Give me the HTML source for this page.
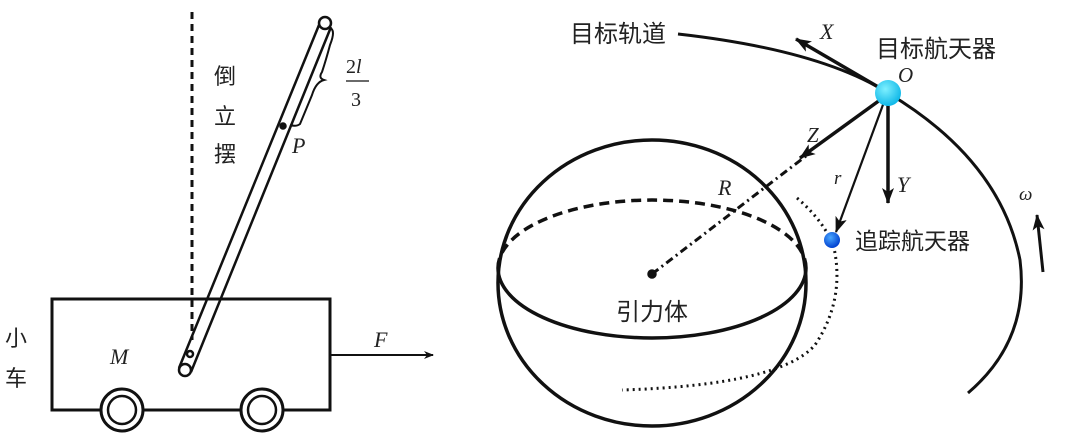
<!DOCTYPE html>
<html><head><meta charset="utf-8"><style>
html,body{margin:0;padding:0;background:#fff;}
svg{display:block;}
text{font-family:"Liberation Serif","Noto Serif CJK SC",serif;fill:#222;}
.cn{font-family:"Liberation Sans","Noto Sans CJK SC",sans-serif;}
</style></head><body>
<svg width="1080" height="439" viewBox="0 0 1080 439" xmlns="http://www.w3.org/2000/svg">
<defs>
<marker id="ah" markerWidth="10" markerHeight="8" refX="9" refY="4" orient="auto" markerUnits="userSpaceOnUse"><path d="M0,0 L10,4 L0,8 L3,4z" fill="#111"/></marker>
<marker id="ahb" markerWidth="16" markerHeight="12" refX="15" refY="6" orient="auto" markerUnits="userSpaceOnUse"><path d="M0,0 L16,6 L0,12 L4,6z" fill="#111"/></marker>
<radialGradient id="g1" cx="40%" cy="35%" r="65%"><stop offset="0" stop-color="#7ef0ff"/><stop offset="1" stop-color="#10b8e8"/></radialGradient>
<radialGradient id="g2" cx="40%" cy="35%" r="65%"><stop offset="0" stop-color="#4aa8ff"/><stop offset="1" stop-color="#0040d0"/></radialGradient>
</defs>
<g stroke="#111" fill="none" stroke-width="2.5">
<line x1="192" y1="12" x2="192" y2="340" stroke-dasharray="7,5" stroke-width="3"/>
<rect x="52" y="299" width="278" height="111" stroke-width="3"/>
<line x1="319" y1="25" x2="179" y2="368"/>
<line x1="331" y1="27" x2="191" y2="372"/>
<circle cx="325" cy="23" r="6" fill="#fff"/>
<circle cx="185" cy="370" r="6" fill="#fff"/>
<circle cx="190" cy="354" r="3"/>
<path d="M330,28 Q336,30 330,45 Q326,60 322,72 Q318,78 324,80 Q316,82 312,95 L300,124 Q296,127 290,125" stroke-width="2"/>
<circle cx="283" cy="126" r="2.5" fill="#111"/>
<line x1="346" y1="81" x2="369" y2="81" stroke-width="1.2"/>
<line x1="330" y1="355" x2="433" y2="355" stroke-width="2" marker-end="url(#ah)"/>
<circle cx="122" cy="410" r="21" fill="#fff" stroke-width="3"/>
<circle cx="122" cy="410" r="14" stroke-width="2.5"/>
<circle cx="262" cy="410" r="21" fill="#fff" stroke-width="3"/>
<circle cx="262" cy="410" r="14" stroke-width="2.5"/>
<ellipse cx="652" cy="283" rx="154" ry="143" stroke-width="3.5"/>
<path d="M498,268 A154,68 0 0 1 806,268" stroke-dasharray="10,6" stroke-width="3.5"/>
<path d="M498,268 A154,70 0 0 0 806,268" stroke-width="3.5"/>
<line x1="652" y1="274" x2="806" y2="156" stroke-dasharray="8,4,2,4" stroke-width="3"/>
<circle cx="652" cy="274" r="3.5" fill="#111"/>
<path d="M797,198 Q825,222 834,248 Q845,300 815,345 Q780,385 622,390" stroke-dasharray="2,4" stroke-width="3"/>
<path d="M678,34 Q820,50 888,93 Q1000,160 1020,260 Q1030,340 968,393" stroke-width="3"/>
<line x1="880" y1="88" x2="796" y2="39" stroke-width="3.5" marker-end="url(#ahb)"/>
<line x1="880" y1="100" x2="800" y2="158" stroke-width="3.5" marker-end="url(#ahb)"/>
<line x1="884" y1="102" x2="836" y2="232" stroke-width="2.2" marker-end="url(#ahb)"/>
<line x1="888" y1="102" x2="888" y2="203" stroke-width="3.5" marker-end="url(#ahb)"/>
<line x1="1043" y1="272" x2="1037" y2="215" stroke-width="3" marker-end="url(#ahb)"/>
</g>
<circle cx="888" cy="93" r="13" fill="url(#g1)"/>
<circle cx="832" cy="240" r="8" fill="url(#g2)"/>
<text class="cn" x="214" y="84" font-size="22">倒</text>
<text class="cn" x="214" y="124" font-size="22">立</text>
<text class="cn" x="214" y="162" font-size="22">摆</text>
<text x="292" y="153" font-size="22" font-style="italic">P</text>
<text x="346" y="73" font-size="20">2<tspan font-style="italic">l</tspan></text>
<text x="351" y="106" font-size="20">3</text>
<text class="cn" x="5" y="346" font-size="22">小</text>
<text class="cn" x="5" y="386" font-size="22">车</text>
<text x="110" y="364" font-size="22" font-style="italic">M</text>
<text x="374" y="347" font-size="22" font-style="italic">F</text>
<text class="cn" x="570" y="42" font-size="24">目标轨道</text>
<text x="820" y="39" font-size="22" font-style="italic">X</text>
<text class="cn" x="876" y="57" font-size="24">目标航天器</text>
<text x="898" y="82" font-size="21" font-style="italic">O</text>
<text x="807" y="142" font-size="21" font-style="italic">Z</text>
<text x="834" y="184" font-size="19" font-style="italic">r</text>
<text x="897" y="192" font-size="22" font-style="italic">Y</text>
<text x="718" y="195" font-size="22" font-style="italic">R</text>
<text class="cn" x="855" y="249" font-size="23">追踪航天器</text>
<text x="1019" y="200" font-size="19" font-style="italic">ω</text>
<text class="cn" x="616" y="320" font-size="24">引力体</text>
</svg>
</body></html>
